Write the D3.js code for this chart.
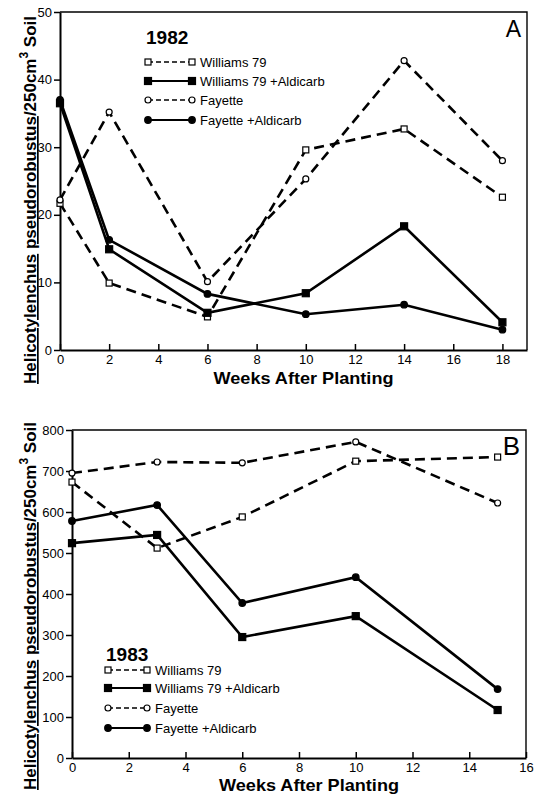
<!DOCTYPE html>
<html>
<head>
<meta charset="utf-8">
<script src="https://cdn.jsdelivr.net/npm/d3@7"></script>
<style>
  body { margin: 0; background: #fff; }
  svg { display: block; font-family: 'Liberation Sans', Arial, sans-serif; }
  .axis path, .axis line { stroke: #000; }
  .axis text { fill: #000; font-size: 13px; }
</style>
</head>
<body>
<svg id="chart" width="538" height="795"></svg>
<script>
// series names, same order in both panels
var seriesNames = ['Williams 79', 'Williams 79 +Aldicarb', 'Fayette', 'Fayette +Aldicarb']

// 1982 (panel A)
var weeks1982 = [0, 2, 6, 10, 14, 18]
var williams1982 = [21.7, 9.9, 4.9, 29.6, 32.7, 22.6]
var williamsAld1982 = [36.5, 14.9, 5.5, 8.4, 18.3, 4.1]
var fayette1982 = [22.2, 35.2, 10.1, 25.3, 42.8, 28.0]
var fayetteAld1982 = [37.0, 16.3, 8.3, 5.3, 6.7, 3.0]
var yTicks1982 = [0, 10, 20, 30, 40, 50]
var xTicks1982 = [0, 2, 4, 6, 8, 10, 12, 14, 16, 18]

// 1983 (panel B)
var weeks1983 = [0, 3, 6, 10, 15]
var williams1983 = [673, 512, 588, 724, 734]
var williamsAld1983 = [524, 544, 295, 346, 117]
var fayette1983 = [695, 722, 720, 771, 622]
var fayetteAld1983 = [578, 617, 378, 441, 168]
var yTicks1983 = [0, 100, 200, 300, 400, 500, 600, 700, 800]
var xTicks1983 = [0, 2, 4, 6, 8, 10, 12, 14, 16]

// dashed/open for the untreated cultivars, solid/filled with aldicarb
var styles = [
  { dash: '10,6', shape: 'square', filled: false },
  { dash: null, shape: 'square', filled: true },
  { dash: '10,6', shape: 'circle', filled: false },
  { dash: null, shape: 'circle', filled: true }
]

var svg = d3.select('#chart')

function drawMarker (g, shape, filled, cx, cy) {
  if (shape === 'square') {
    var s = filled ? 7 : 6
    g.append('rect')
      .attr('x', cx - s / 2)
      .attr('y', cy - s / 2)
      .attr('width', s)
      .attr('height', s)
      .attr('fill', filled ? '#000' : '#fff')
      .attr('stroke', '#000')
      .attr('stroke-width', 1.2)
  } else {
    g.append('circle')
      .attr('cx', cx)
      .attr('cy', cy)
      .attr('r', filled ? 3.3 : 3)
      .attr('fill', filled ? '#000' : '#fff')
      .attr('stroke', '#000')
      .attr('stroke-width', 1.2)
  }
}

function drawPanel (p) {
  var x = d3.scaleLinear().domain(p.xDomain).range([p.left, p.right])
  var y = d3.scaleLinear().domain(p.yDomain).range([p.bottom, p.top])

  var g = svg.append('g')

  // frame (top and right)
  g.append('path')
    .attr('d', 'M' + p.left + ',' + p.top + 'H' + p.right + 'V' + p.bottom)
    .attr('fill', 'none')
    .attr('stroke', '#000')
    .attr('stroke-width', 1.4)

  g.append('g')
    .attr('class', 'axis')
    .attr('transform', 'translate(' + p.left + ',0)')
    .call(d3.axisLeft(y).tickValues(p.yTicks).tickSizeInner(6).tickSizeOuter(0).tickPadding(2))
    .call(function (a) {
      a.select('.domain').attr('stroke-width', 2)
      a.selectAll('.tick line').attr('stroke-width', 1.5)
    })

  g.append('g')
    .attr('class', 'axis')
    .attr('transform', 'translate(0,' + p.bottom + ')')
    .call(d3.axisBottom(x).tickValues(p.xTicks).tickSizeInner(-6).tickSizeOuter(0).tickPadding(5))
    .call(function (a) {
      a.select('.domain').attr('stroke-width', 2)
      a.selectAll('.tick line').attr('stroke-width', 1.5)
    })

  var line = d3.line()
    .x(function (d) { return x(d.week) })
    .y(function (d) { return y(d.value) })

  p.series.forEach(function (values, i) {
    var st = styles[i]
    var data = p.weeks.map(function (w, j) { return { week: w, value: values[j] } })
    g.append('path')
      .datum(data)
      .attr('fill', 'none')
      .attr('stroke', '#000')
      .attr('stroke-width', 2.6)
      .attr('stroke-dasharray', st.dash)
      .attr('d', line)
  })
  p.series.forEach(function (values, i) {
    var st = styles[i]
    values.forEach(function (v, j) {
      drawMarker(g, st.shape, st.filled, x(p.weeks[j]), y(v))
    })
  })

  // legend
  g.append('text')
    .attr('x', p.legend.x0 - 2)
    .attr('y', p.legend.yearY)
    .attr('font-size', 19)
    .attr('font-weight', 'bold')
    .text(p.year)

  seriesNames.forEach(function (name, i) {
    var st = styles[i]
    var ly = p.legend.rows[i]
    g.append('line')
      .attr('x1', p.legend.x0)
      .attr('x2', p.legend.x1)
      .attr('y1', ly)
      .attr('y2', ly)
      .attr('stroke', '#000')
      .attr('stroke-width', st.dash ? 1.6 : 2)
      .attr('stroke-dasharray', st.dash ? '5,3' : null)
    drawMarker(g, st.shape, st.filled, p.legend.x0, ly)
    drawMarker(g, st.shape, st.filled, p.legend.x1, ly)
    g.append('text')
      .attr('x', p.legend.x1 + 8)
      .attr('y', ly)
      .attr('dy', '0.35em')
      .attr('font-size', 13)
      .text(name)
  })

  // panel letter
  g.append('text')
    .attr('x', p.right - 6)
    .attr('y', p.letterY)
    .attr('text-anchor', 'end')
    .attr('font-size', p.letterSize)
    .text(p.letter)

  // axis titles
  g.append('text')
    .attr('x', (p.left + p.right) / 2 + 10)
    .attr('y', p.xTitleY)
    .attr('text-anchor', 'middle')
    .attr('font-size', 17)
    .attr('font-weight', 'bold')
    .attr('textLength', 180)
    .attr('lengthAdjust', 'spacingAndGlyphs')
    .text('Weeks After Planting')

  var yt = g.append('text')
    .attr('transform', 'translate(36,' + p.yTitleCenter + ') rotate(-90)')
    .attr('text-anchor', 'middle')
    .attr('font-size', 17)
    .attr('font-weight', 'bold')
    .attr('textLength', 368)
    .attr('lengthAdjust', 'spacingAndGlyphs')
  yt.append('tspan').attr('text-decoration', 'underline').text('Helicotylenchus')
  yt.append('tspan').text(' ')
  yt.append('tspan').attr('text-decoration', 'underline').text('pseudorobustus')
  yt.append('tspan').text('/250cm')
  yt.append('tspan').attr('dy', -8).attr('font-size', 12).text('3')
  yt.append('tspan').attr('dy', 8).text(' Soil')
}

drawPanel({
  year: '1982',
  letter: 'A',
  letterY: 37,
  letterSize: 23,
  left: 60, right: 527, top: 12, bottom: 350,
  xDomain: [0, 19], yDomain: [0, 50],
  xTicks: xTicks1982, yTicks: yTicks1982,
  weeks: weeks1982,
  series: [williams1982, williamsAld1982, fayette1982, fayetteAld1982],
  legend: { x0: 148, x1: 192, yearY: 44, rows: [62, 81, 100, 120] },
  xTitleY: 384,
  yTitleCenter: 200
})

drawPanel({
  year: '1983',
  letter: 'B',
  letterY: 455,
  letterSize: 26,
  left: 72, right: 526, top: 430, bottom: 758,
  xDomain: [0, 16], yDomain: [0, 800],
  xTicks: xTicks1983, yTicks: yTicks1983,
  weeks: weeks1983,
  series: [williams1983, williamsAld1983, fayette1983, fayetteAld1983],
  legend: { x0: 108, x1: 147, yearY: 661, rows: [670, 688, 708, 728] },
  xTitleY: 791,
  yTitleCenter: 606
})
</script>
</body>
</html>
